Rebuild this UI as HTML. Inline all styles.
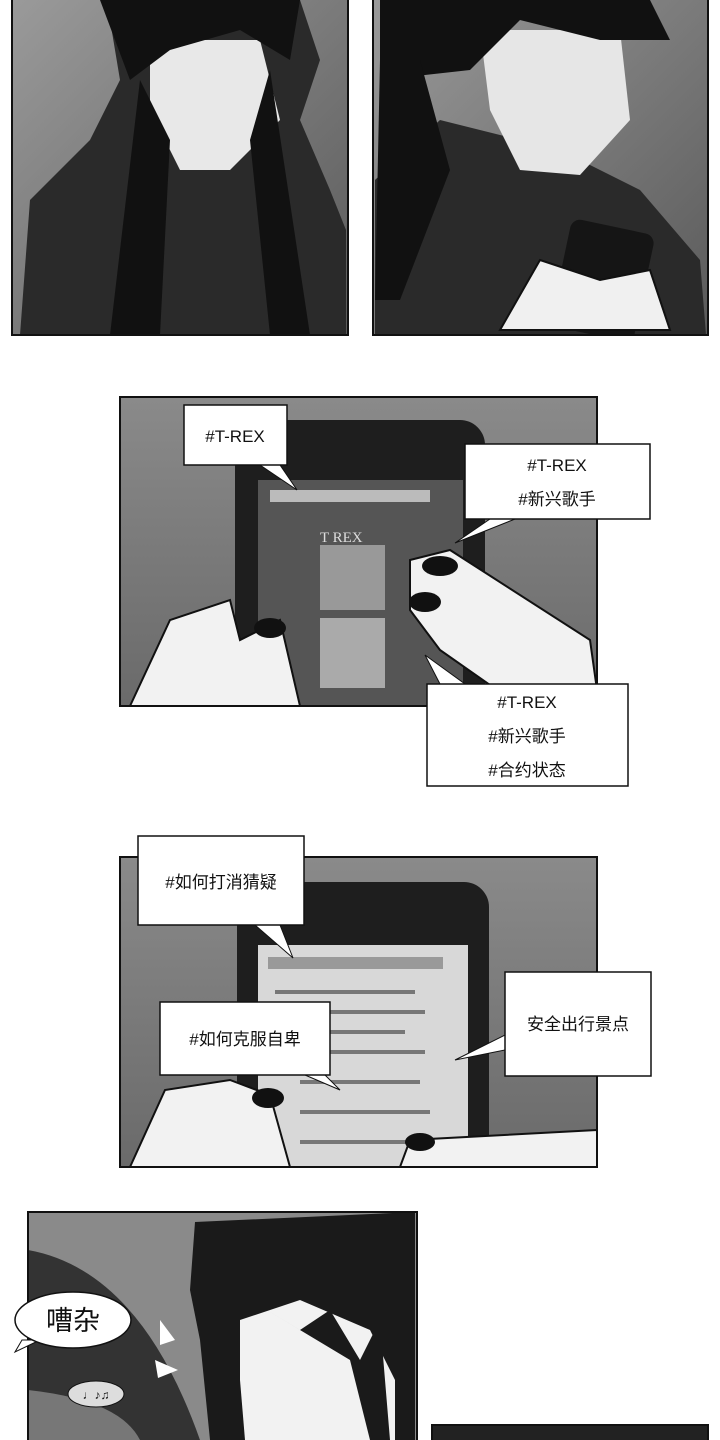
<!DOCTYPE html>
<html><head><meta charset="utf-8"><style>
html,body{margin:0;padding:0;background:#fff;}
svg{display:block}
text{font-family:"Liberation Sans","Noto Sans CJK SC",sans-serif;fill:#111}
</style></head><body>
<svg width="720" height="1440" viewBox="0 0 720 1440" xmlns="http://www.w3.org/2000/svg">
<defs>
<linearGradient id="g1" x1="0" y1="0" x2="1" y2="1"><stop offset="0" stop-color="#9a9a9a"/><stop offset="1" stop-color="#5a5a5a"/></linearGradient>
<linearGradient id="g3" x1="0" y1="0" x2="0" y2="1"><stop offset="0" stop-color="#8a8a8a"/><stop offset="1" stop-color="#6a6a6a"/></linearGradient>
<clipPath id="c1"><rect x="12" y="0" width="336" height="335"/></clipPath>
<clipPath id="c2"><rect x="373" y="0" width="335" height="335"/></clipPath>
<clipPath id="c3"><rect x="120" y="397" width="477" height="309"/></clipPath>
<clipPath id="c4"><rect x="120" y="857" width="477" height="310"/></clipPath>
<clipPath id="c5"><rect x="28" y="1212" width="389" height="240"/></clipPath>
</defs>
<!-- Panel 1 -->
<g clip-path="url(#c1)">
<rect x="12" y="0" width="336" height="335" fill="url(#g1)"/>
<path d="M20 335 L30 200 L90 140 L120 80 L110 20 L150 0 L300 0 L320 60 L300 120 L330 190 L346 230 L346 335 Z" fill="#2a2a2a"/>
<path d="M150 40 L260 40 L280 120 L230 170 L180 170 L150 110 Z" fill="#e8e8e8"/>
<path d="M100 0 L300 0 L290 60 L240 30 L170 50 L130 80 Z" fill="#111"/>
<path d="M140 80 L110 335 L160 335 L170 140 Z" fill="#111"/>
<path d="M270 70 L310 335 L270 335 L250 140 Z" fill="#111"/>
</g>
<rect x="12" y="-2" width="336" height="337" fill="none" stroke="#111" stroke-width="2"/>
<!-- Panel 2 -->
<g clip-path="url(#c2)">
<rect x="373" y="0" width="335" height="335" fill="url(#g1)"/>
<path d="M375 335 L375 180 L440 120 L560 150 L640 190 L700 260 L706 335 Z" fill="#2a2a2a"/>
<path d="M480 30 L620 30 L630 120 L580 175 L520 170 L490 110 Z" fill="#e6e6e6"/>
<path d="M380 0 L650 0 L670 40 L600 40 L520 20 L470 70 L380 80 Z" fill="#111"/>
<path d="M380 60 L420 60 L450 170 L400 300 L375 300 Z" fill="#111"/>
<rect x="560" y="225" width="85" height="110" rx="10" fill="#151515" transform="rotate(12 600 280)"/>
<path d="M500 330 L540 260 L600 280 L650 270 L670 330 Z" fill="#f0f0f0" stroke="#111" stroke-width="2"/>
</g>
<rect x="373" y="-2" width="335" height="337" fill="none" stroke="#111" stroke-width="2"/>
<!-- Panel 3 -->
<g clip-path="url(#c3)">
<rect x="120" y="397" width="477" height="309" fill="url(#g3)"/>
<rect x="235" y="420" width="250" height="310" rx="25" fill="#1e1e1e"/>
<rect x="258" y="480" width="205" height="226" fill="#555"/>
<rect x="270" y="490" width="160" height="12" fill="#bbb"/>
<rect x="320" y="545" width="65" height="65" fill="#999"/>
<rect x="320" y="618" width="65" height="70" fill="#aaa"/>
<text x="320" y="542" font-size="15" style="fill:#ddd;font-family:'Liberation Serif',serif">T REX</text>
<path d="M130 706 L170 620 L230 600 L240 640 L280 620 L300 706 Z" fill="#f2f2f2" stroke="#111" stroke-width="2"/>
<path d="M410 560 L450 550 L590 640 L597 690 L520 706 L440 650 L410 610 Z" fill="#f2f2f2" stroke="#111" stroke-width="2"/>
<ellipse cx="440" cy="566" rx="18" ry="10" fill="#111"/>
<ellipse cx="425" cy="602" rx="16" ry="10" fill="#111"/>
<ellipse cx="270" cy="628" rx="16" ry="10" fill="#111"/>
</g>
<rect x="120" y="397" width="477" height="309" fill="none" stroke="#111" stroke-width="2"/>
<path d="M260 465 L280 465 L297 490 Z" fill="#fff" stroke="#111"/>
<rect x="184" y="405" width="103" height="60" fill="#fff" stroke="#111" stroke-width="1.5"/>
<text x="235" y="442" font-size="17" text-anchor="middle">#T-REX</text>
<path d="M490 519 L515 519 L455 543 Z" fill="#fff" stroke="#111"/>
<rect x="465" y="444" width="185" height="75" fill="#fff" stroke="#111" stroke-width="1.5"/>
<text x="557" y="471" font-size="17" text-anchor="middle">#T-REX</text>
<text x="557" y="505" font-size="17" text-anchor="middle">#新兴歌手</text>
<path d="M440 684 L465 684 L425 655 Z" fill="#fff" stroke="#111"/>
<rect x="427" y="684" width="201" height="102" fill="#fff" stroke="#111" stroke-width="1.5"/>
<text x="527" y="708" font-size="17" text-anchor="middle">#T-REX</text>
<text x="527" y="742" font-size="17" text-anchor="middle">#新兴歌手</text>
<text x="527" y="776" font-size="17" text-anchor="middle">#合约状态</text>
<!-- Panel 4 -->
<g clip-path="url(#c4)">
<rect x="120" y="857" width="477" height="310" fill="url(#g3)"/>
<rect x="237" y="882" width="252" height="310" rx="25" fill="#1e1e1e"/>
<rect x="258" y="945" width="210" height="222" fill="#d8d8d8"/>
<rect x="268" y="957" width="175" height="12" fill="#999"/>
<g fill="#777"><rect x="275" y="990" width="140" height="4"/><rect x="275" y="1010" width="150" height="4"/><rect x="275" y="1030" width="130" height="4"/><rect x="275" y="1050" width="150" height="4"/><rect x="300" y="1080" width="120" height="4"/><rect x="300" y="1110" width="130" height="4"/><rect x="300" y="1140" width="120" height="4"/></g>
<path d="M130 1167 L165 1090 L230 1080 L270 1095 L290 1167 Z" fill="#f2f2f2" stroke="#111" stroke-width="2"/>
<path d="M400 1167 L410 1140 L597 1130 L597 1167 Z" fill="#f2f2f2" stroke="#111" stroke-width="2"/>
<ellipse cx="268" cy="1098" rx="16" ry="10" fill="#111"/>
<ellipse cx="420" cy="1142" rx="15" ry="9" fill="#111"/>
</g>
<rect x="120" y="857" width="477" height="310" fill="none" stroke="#111" stroke-width="2"/>
<path d="M255 925 L280 925 L293 958 Z" fill="#fff" stroke="#111"/>
<rect x="138" y="836" width="166" height="89" fill="#fff" stroke="#111" stroke-width="1.5"/>
<text x="221" y="888" font-size="17" text-anchor="middle">#如何打消猜疑</text>
<path d="M305 1075 L325 1075 L340 1090 Z" fill="#fff" stroke="#111"/>
<rect x="160" y="1002" width="170" height="73" fill="#fff" stroke="#111" stroke-width="1.5"/>
<text x="245" y="1045" font-size="17" text-anchor="middle">#如何克服自卑</text>
<path d="M505 1035 L505 1050 L455 1060 Z" fill="#fff" stroke="#111"/>
<rect x="505" y="972" width="146" height="104" fill="#fff" stroke="#111" stroke-width="1.5"/>
<text x="578" y="1030" font-size="17" text-anchor="middle">安全出行景点</text>
<!-- Panel 5 -->
<g clip-path="url(#c5)">
<rect x="28" y="1212" width="389" height="240" fill="#8a8a8a"/>
<path d="M28 1250 Q140 1270 200 1440 L28 1440 Z" fill="#333"/>
<path d="M28 1390 Q120 1400 140 1440 L28 1440 Z" fill="#777"/>
<path d="M195 1222 L415 1212 L415 1440 L210 1440 L200 1340 L190 1290 Z" fill="#1a1a1a"/>
<path d="M240 1320 L300 1300 L370 1330 L395 1380 L395 1440 L245 1440 L240 1380 Z" fill="#f2f2f2"/>
<path d="M250 1300 L300 1330 L330 1310 L360 1360 L380 1320 L390 1440 L370 1440 L350 1360 Z" fill="#1a1a1a"/>
<path d="M160 1320 L175 1340 L160 1345 Z" fill="#fff"/>
<path d="M155 1360 L178 1370 L158 1378 Z" fill="#fff"/>
</g>
<rect x="28" y="1212" width="389" height="240" fill="none" stroke="#111" stroke-width="2"/>
<path d="M22 1340 L40 1340 L15 1352 Z" fill="#fff" stroke="#111"/>
<ellipse cx="73" cy="1320" rx="58" ry="28" fill="#fff" stroke="#111" stroke-width="1.5"/>
<text x="73" y="1330" font-size="27" text-anchor="middle">嘈杂</text>
<ellipse cx="96" cy="1394" rx="28" ry="13" fill="#ddd" stroke="#111"/>
<text x="96" y="1399" font-size="12" text-anchor="middle">♩♪♫</text>
<!-- Panel 6 -->
<rect x="432" y="1425" width="276" height="30" fill="#222" stroke="#111" stroke-width="2"/>
</svg>
</body></html>
